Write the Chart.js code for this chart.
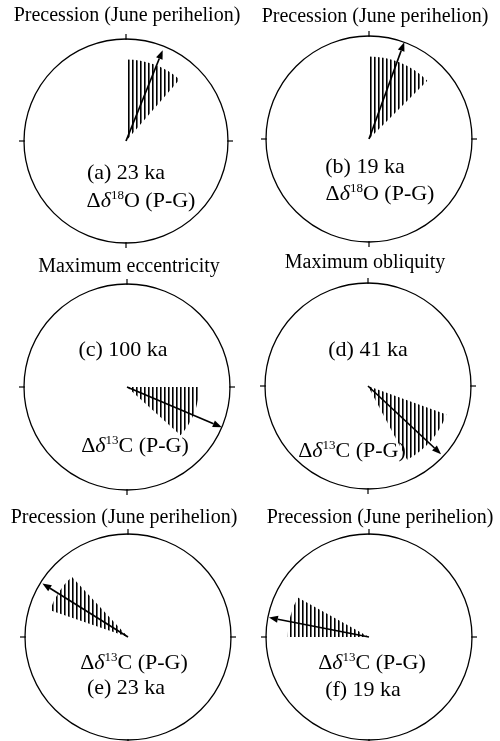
<!DOCTYPE html>
<html>
<head>
<meta charset="utf-8">
<script src="https://cdn.jsdelivr.net/npm/chart.js@4.4.0/dist/chart.umd.min.js"></script>
<style>
html, body { margin: 0; padding: 0; background: #fff; overflow: hidden; }
#wrap { position: relative; width: 500px; height: 741px; overflow: hidden; }
#wrap canvas { position: absolute; }
</style>
</head>
<body>
<div id="wrap"></div>
<script>
// phase wheels: angles in degrees, clockwise from the top of the circle
const titles = ['Precession (June perihelion)', 'Precession (June perihelion)',
    'Maximum eccentricity', 'Maximum obliquity',
    'Precession (June perihelion)', 'Precession (June perihelion)'];
const periods = ['(a) 23 ka', '(b) 19 ka', '(c) 100 ka', '(d) 41 ka', '(e) 23 ka', '(f) 19 ka'];
const isotopes = ['18', '18', '13', '13', '13', '13'];
const elements = ['O', 'O', 'C', 'C', 'C', 'C'];
const phase = [22, 20, 113, 133, 302, 281];
const arrowLength = [0.96, 1, 1, 0.97, 0.98, 0.99];
const bandStart = [0, 0, 90, 110, 289, 270];
const bandEnd = [41, 45, 132, 152, 317, 299];
const bandRadius = [0.8, 0.8, 0.7, 0.81, 0.8, 0.79];

// layout, page pixels
const centers = [[126, 141], [369, 139], [127, 387], [368, 386], [128, 637], [369, 637]];
const radii = [102, 103, 103, 103, 103, 103];
const titlePos = [[127, 16], [375, 17], [129, 267], [365, 263], [124, 518], [380, 518]];
const periodPos = [[126, 173], [365, 167], [123, 350], [368, 350], [126, 688], [363, 690]];
const proxyPos = [[141, 200], [380, 193], [135, 445], [352, 450], [134, 662], [372, 662]];
const rowTop = [0, 246, 496];
const W = 250, H = 250;
const FONT = '"Liberation Serif", "Times New Roman", serif';

// point on the radial scale; deg clockwise from top
const polar = (s, deg, dist) => {
    const a = deg * Math.PI / 180 - Math.PI / 2;
    return { x: s.xCenter + Math.cos(a) * dist, y: s.yCenter + Math.sin(a) * dist };
};

const wheelPlugin = {
    id: 'wheel',
    afterDatasetsDraw(chart, args, opts) {
        const i = opts.index;
        const ox = opts.ox, oy = opts.oy;
        const s = chart.scales.r;
        const ctx = chart.ctx;
        ctx.save();
        ctx.strokeStyle = '#000';
        ctx.fillStyle = '#000';
        ctx.lineWidth = 1.2;
        // tick marks at the four quarters
        for (let k = 0; k < 4; k++) {
            const p0 = polar(s, k * 90, s.drawingArea - 1);
            const p1 = polar(s, k * 90, s.drawingArea + 5);
            ctx.beginPath();
            ctx.moveTo(p0.x, p0.y);
            ctx.lineTo(p1.x, p1.y);
            ctx.stroke();
        }
        // phase arrow
        const len = s.getDistanceFromCenterForValue(arrowLength[i]);
        const tip = polar(s, phase[i], len);
        const base = polar(s, phase[i], len - 9);
        ctx.lineWidth = 1.7;
        ctx.beginPath();
        ctx.moveTo(s.xCenter, s.yCenter);
        ctx.lineTo(base.x, base.y);
        ctx.stroke();
        const ang = phase[i] * Math.PI / 180 - Math.PI / 2;
        const nx = -Math.sin(ang), ny = Math.cos(ang);
        ctx.beginPath();
        ctx.moveTo(tip.x, tip.y);
        ctx.lineTo(base.x + nx * 3.5, base.y + ny * 3.5);
        ctx.lineTo(base.x - nx * 3.5, base.y - ny * 3.5);
        ctx.closePath();
        ctx.fill();
        // texts
        ctx.textBaseline = 'middle';
        ctx.textAlign = 'center';
        ctx.font = '20px ' + FONT;
        ctx.fillText(titles[i], titlePos[i][0] - ox, titlePos[i][1] - oy);
        ctx.font = '22px ' + FONT;
        ctx.fillText(periods[i], periodPos[i][0] - ox, periodPos[i][1] - oy);
        // proxy label with superscript mass number
        const big = '22px ' + FONT, ital = 'italic 22px ' + FONT, small = '13px ' + FONT;
        const rest = elements[i] + ' (P-G)';
        ctx.font = big; const wD = ctx.measureText('\u0394').width; const wR = ctx.measureText(rest).width;
        ctx.font = ital; const wd = ctx.measureText('\u03b4').width;
        ctx.font = small; const wI = ctx.measureText(isotopes[i]).width;
        let x = proxyPos[i][0] - ox - (wD + wd + wI + wR) / 2;
        const y = proxyPos[i][1] - oy + 7;
        ctx.textAlign = 'left';
        ctx.textBaseline = 'alphabetic';
        ctx.font = big; ctx.fillText('\u0394', x, y); x += wD;
        ctx.font = ital; ctx.fillText('\u03b4', x, y); x += wd;
        ctx.font = small; ctx.fillText(isotopes[i], x, y - 8); x += wI;
        ctx.font = big; ctx.fillText(rest, x, y);
        ctx.restore();
    }
};

const wrap = document.getElementById('wrap');
for (let i = 0; i < titles.length; i++) {
    const ox = (i % 2) * W;
    const oy = rowTop[Math.floor(i / 2)];
    const cv = document.createElement('canvas');
    cv.width = W; cv.height = H;
    cv.style.left = ox + 'px'; cv.style.top = oy + 'px';
    cv.style.width = W + 'px'; cv.style.height = H + 'px';
    wrap.appendChild(cv);

    // vertical hatching
    const pc = document.createElement('canvas');
    pc.width = 4; pc.height = 4;
    const pctx = pc.getContext('2d');
    pctx.fillStyle = '#000';
    pctx.fillRect(0, 0, 1, 4);
    pctx.fillStyle = 'rgba(0,0,0,0.6)';
    pctx.fillRect(1, 0, 1, 4);
    const hatch = cv.getContext('2d').createPattern(pc, 'repeat');

    const R = radii[i];
    const cx = centers[i][0] - ox, cy = centers[i][1] - oy;
    new Chart(cv, {
        type: 'polarArea',
        data: {
            labels: [periods[i]],
            datasets: [{
                data: [bandRadius[i]],
                angle: bandEnd[i] - bandStart[i],
                backgroundColor: hatch,
                borderWidth: 0
            }]
        },
        options: {
            responsive: false,
            animation: false,
            layout: { padding: { left: cx - R, top: cy - R, right: W - cx - R, bottom: H - cy - R } },
            plugins: {
                legend: { display: false },
                tooltip: { enabled: false },
                wheel: { index: i, ox: ox, oy: oy }
            },
            scales: {
                r: {
                    min: 0,
                    max: 1,
                    startAngle: bandStart[i],
                    ticks: { display: false, stepSize: 1 },
                    grid: { color: '#000', lineWidth: 1.3 },
                    angleLines: { display: false },
                    pointLabels: { display: false }
                }
            }
        },
        plugins: [wheelPlugin]
    });
}
</script>
</body>
</html>
